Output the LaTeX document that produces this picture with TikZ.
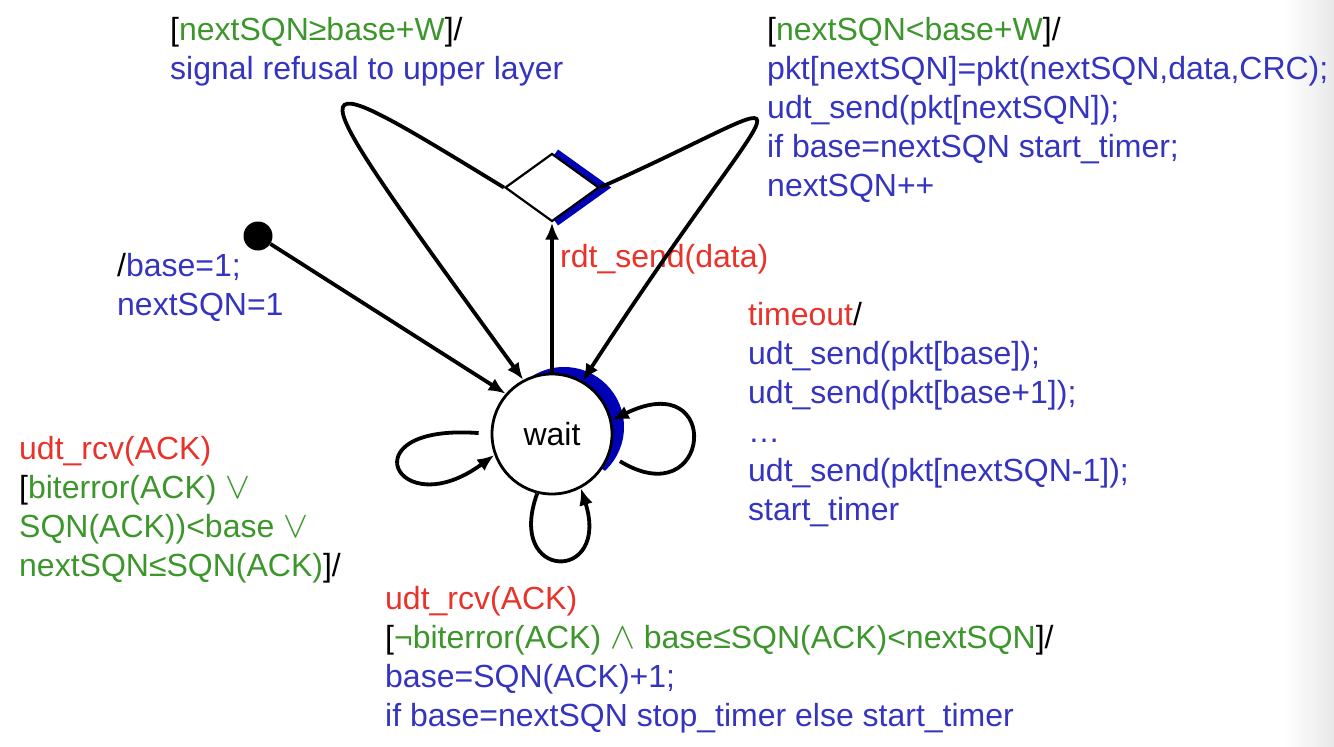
\documentclass[tikz,border=0pt]{standalone}
\usepackage{fontspec}
\setmainfont{Liberation Sans}
\usepackage{graphicx}
\usepackage{tikz}
\usetikzlibrary{arrows.meta,positioning,calc,shapes.geometric,backgrounds}
\definecolor{evred}{HTML}{E8322A}
\definecolor{grdgreen}{HTML}{3D962C}
\definecolor{actblue}{HTML}{3434C0}
\definecolor{hiblue}{HTML}{0000B4}
\definecolor{edgegray}{HTML}{E8E8E8}
\newcommand{\orsym}{\scalebox{1.5}{$\vee$}}
\newcommand{\andsym}{\scalebox{1.5}{$\wedge$}}

\begin{document}
\begin{tikzpicture}[x=1pt,y=-1pt,every node/.style={font=\fontsize{32}{39}\selectfont},st/.style={circle,draw,line width=2.8pt,fill=white,minimum size=120pt,inner sep=0pt},junc/.style={diamond,draw,line width=2.2pt,fill=white,minimum width=94pt,minimum height=68pt,inner sep=0pt},lbl/.style={anchor=base west,align=left,inner sep=0pt,text=actblue},arr/.style={-{Latex[length=17pt,width=14pt]},line width=3.8pt},selfarr/.style={arr,shorten <=12pt}]
\useasboundingbox (0,0) rectangle (1334,747);
\node[st] (wait) at (552,434) {wait};
\node[junc,above=150pt of wait] (sel) {};
\node[circle,fill,minimum size=29pt,inner sep=0pt] (init) at (258,236) {};
% blue highlights behind the state and the choice
\begin{scope}[on background layer]
\shade[left color=white,right color=edgegray] (1284,0) rectangle (1334,747);
\draw[hiblue,line width=7pt] ($(sel.north)+(4,0)$) -- ($(sel.east)+(5,0)$) -- ($(sel.south)+(4,0)$);
\begin{scope}
\clip (wait.center) -- (505,346) -- (560,300) -- (720,380) -- (720,480) -- (634,491) -- cycle;
\fill[hiblue] ($(wait.center)+(12,-7)$) circle[radius=60];
\end{scope}
\end{scope}
% labels: y is the baseline of the last line
\node[lbl] (refuse) at (170,79) {\textcolor{black}{[}\textcolor{grdgreen}{nextSQN≥base+W}\textcolor{black}{]/}\\signal refusal to upper layer};
\node[lbl] (accept) at (767,196) {\textcolor{black}{[}\textcolor{grdgreen}{nextSQN<base+W}\textcolor{black}{]/}\\pkt[nextSQN]=pkt(nextSQN,data,CRC);\\udt\_send(pkt[nextSQN]);\\if base=nextSQN start\_timer;\\nextSQN++};
\node[lbl] (initlbl) at (117,315) {\textcolor{black}{/}base=1;\\nextSQN=1};
\node[lbl,text=evred] (sendlbl) at (560,267) {rdt\_send(data)};
\node[lbl] (tolbl) at (748,520) {\textcolor{evred}{timeout}\textcolor{black}{/}\\udt\_send(pkt[base]);\\udt\_send(pkt[base+1]);\\…\\udt\_send(pkt[nextSQN-1]);\\start\_timer};
\node[lbl,text=grdgreen] (badack) at (19,576) {\textcolor{evred}{udt\_rcv(ACK)}\\\textcolor{black}{[}biterror(ACK) \orsym\\SQN(ACK))<base \orsym\\nextSQN≤SQN(ACK)\textcolor{black}{]/}};
\node[lbl] (goodack) at (385,726) {\textcolor{evred}{udt\_rcv(ACK)}\\\textcolor{black}{[}\textcolor{grdgreen}{¬biterror(ACK) \andsym{} base≤SQN(ACK)<nextSQN}\textcolor{black}{]/}\\base=SQN(ACK)+1;\\if base=nextSQN stop\_timer else start\_timer};
\draw[arr] (init) -- (wait.139);
\draw[arr] (wait) -- (sel);
\draw[arr] (sel.west) .. controls (287,55) and (287,55) .. (wait.118);
\draw[arr] (sel.east) .. controls (830,85) and (791,60) .. (wait.60);
\draw[selfarr] (wait.-20) .. controls +(102,62) and +(112,-55) .. (wait.13);
\draw[selfarr] (wait.180) .. controls +(-145,-11) and +(-98,72) .. (wait.200);
\draw[arr] (wait.-104) .. controls +(-32,88) and +(30,95) .. (wait.-62);
\end{tikzpicture}
\end{document}
